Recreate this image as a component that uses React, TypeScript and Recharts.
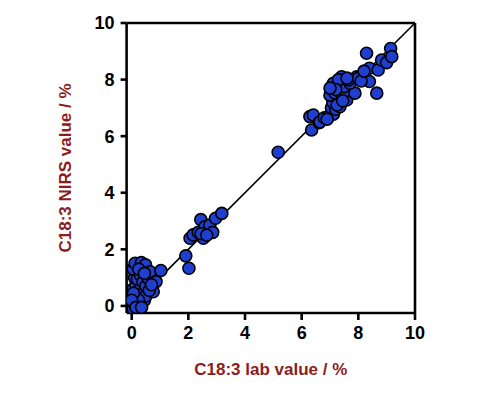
import React from 'react';
import { ScatterChart, Scatter, XAxis, YAxis, ReferenceLine, Label } from 'recharts';

const labValues: number[] = [
  0.05, 0.1, 0.15, 0.2, 0.25, 0.3, 0.35, 0.1, 0.05, 0.15, 0.2, 0.3, 0.4, 0.45, 0.5, 0.1, 0.2, 0.3, 0.4, 0.5,
  0.6, 0.05, 0.12, 0.34, 0.49, 0.25, 0.65, 1.03, 0.86, 0.76, 0.62, 0.24, 0.06, 0.0, 0.15, 0.35, 0.45, 0.7,
  1.91, 2.02, 2.06, 2.17, 2.35, 2.44, 2.53, 2.59, 2.76, 2.86, 2.96, 3.18, 2.45, 2.65,
  5.17,
  6.35, 6.29, 6.41, 6.62, 6.65, 6.8, 6.95, 7.12, 7.05, 7.2, 7.35, 7.1, 7.3, 7.59, 7.0, 7.18, 7.4, 7.55,
  7.88, 7.12, 7.3, 7.5, 7.7, 7.41, 7.3, 7.65, 7.94, 8.0, 7.2, 7.25, 6.9, 7.45, 7.0, 7.6,
  8.39, 8.65, 8.29, 8.39, 8.7, 8.82, 9.0, 9.14, 9.18, 8.1, 8.2,
];

const nirsValues: number[] = [
  -0.1, 0.05, 0.2, 0.0, 0.15, 0.05, 0.3, 0.35, 0.6, 0.75, 0.5, 0.6, 0.45, 0.2, 0.35, 1.0, 0.95, 1.1, 0.85, 0.7,
  0.95, 1.3, 1.51, 1.53, 1.45, 1.3, 1.21, 1.25, 0.86, 0.5, 0.55, 0.21, 0.45, 0.2, -0.05, -0.05, 1.15, 0.75,
  1.77, 1.33, 2.39, 2.51, 2.6, 3.05, 2.39, 2.8, 2.86, 2.6, 3.1, 3.27, 2.55, 2.5,
  5.43,
  6.22, 6.69, 6.75, 6.48, 6.51, 6.65, 6.7, 6.78, 7.0, 6.95, 7.04, 7.2, 7.3, 7.28, 7.45, 7.52, 7.5, 7.6,
  7.52, 7.87, 7.8, 7.75, 7.87, 8.1, 8.0, 7.99, 8.1, 8.05, 7.65, 7.1, 6.6, 7.25, 7.7, 8.05,
  7.93, 7.52, 8.93, 8.4, 8.34, 8.69, 8.6, 9.1, 8.81, 7.95, 8.3,
];

const xTicks: number[] = [0, 2, 4, 6, 8, 10];
const yTicks: number[] = [0, 2, 4, 6, 8, 10];

const xTitle = 'C18:3 lab value / %';
const yTitle = 'C18:3 NIRS value / %';

const data = labValues.map((x, i) => ({ x, y: nirsValues[i] }));

const FONT = '"Liberation Sans", Arial, sans-serif';
const TITLE_COLOR = '#8b1d1d';

const Dot = (props: any) => (
  <circle cx={props.cx} cy={props.cy} r={6} fill="#1f3fd0" stroke="#000" strokeWidth={1.6} />
);

export default function App() {
  return (
    <ScatterChart
      width={472}
      height={386}
      margin={{ top: 15, right: 65, bottom: 51, left: 58.6 }}
    >
      <XAxis
        type="number"
        dataKey="x"
        domain={[-0.18, 10]}
        ticks={xTicks}
        allowDataOverflow
        height={30}
        tickSize={7}
        tickMargin={6}
        stroke="#000"
        strokeWidth={2.6}
        tick={{ fill: '#000', fontSize: 18, fontWeight: 'bold', fontFamily: FONT }}
      >
        <Label
          content={(p: any) => {
            const vb = p.viewBox;
            const cx = vb.x + vb.width / 2;
            const cy = vb.y + vb.height + 26;
            return (
              <text x={cx} y={cy} textAnchor="middle" dominantBaseline="central" fill={TITLE_COLOR}
                fontSize={17} fontWeight="bold" fontFamily={FONT}>{xTitle}</text>
            );
          }}
        />
      </XAxis>
      <YAxis
        type="number"
        dataKey="y"
        domain={[-0.25, 10]}
        ticks={yTicks}
        allowDataOverflow
        width={60}
        tickSize={6}
        tickMargin={6}
        stroke="#000"
        strokeWidth={2.6}
        tick={{ fill: '#000', fontSize: 18, fontWeight: 'bold', fontFamily: FONT }}
      >
        <Label
          content={(p: any) => {
            const vb = p.viewBox;
            const cx = vb.x - 1;
            const cy = vb.y + vb.height / 2;
            return (
              <text x={cx} y={cy} transform={`rotate(-90 ${cx} ${cy})`} textAnchor="middle"
                dominantBaseline="central" fill={TITLE_COLOR} fontSize={17} fontWeight="bold" fontFamily={FONT}>
                {yTitle}
              </text>
            );
          }}
        />
      </YAxis>
      <ReferenceLine y={10} stroke="#000" strokeWidth={2.6} />
      <ReferenceLine x={10} stroke="#000" strokeWidth={2.6} />
      <ReferenceLine segment={[{ x: 0, y: 0 }, { x: 10, y: 10 }]} stroke="#000" strokeWidth={1.6} />
      <Scatter data={data} shape={Dot} isAnimationActive={false} />
    </ScatterChart>
  );
}
